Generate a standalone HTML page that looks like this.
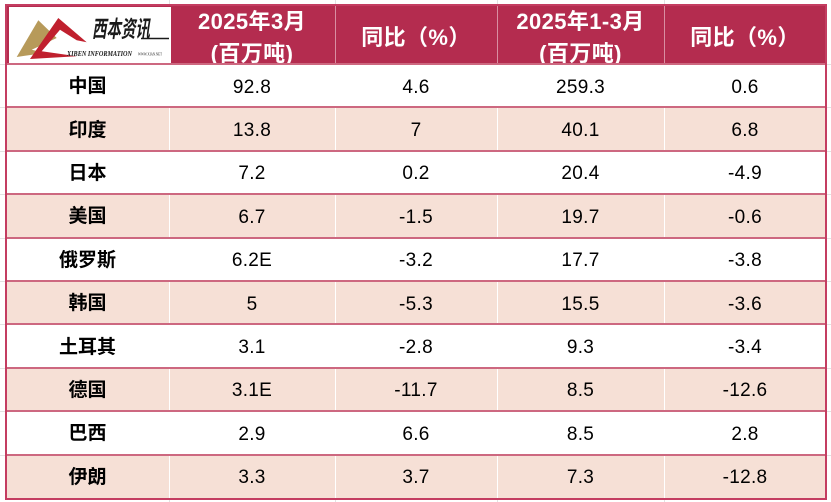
<!DOCTYPE html>
<html><head><meta charset="utf-8">
<style>
html,body{margin:0;padding:0;background:#fff;}
body{width:831px;height:502px;position:relative;overflow:hidden;font-family:"Liberation Sans","Noto Sans CJK SC",sans-serif;}
.g{position:absolute;background:#e2e2e2;}
#t{position:absolute;left:6px;top:5px;width:820px;height:493px;display:grid;grid-template-columns:163px 166px 162px 167px 162px;grid-template-rows:59px repeat(10,43.4px);}
#t>div{display:flex;align-items:center;justify-content:center;text-align:center;color:#000;font-size:19px;letter-spacing:0.3px;padding-top:4px;box-sizing:border-box;}
#t>div.h{background:#b42c4f;color:#fff;font-weight:bold;font-size:22px;line-height:32px;letter-spacing:0.4px;padding-top:0;}
#t>div.h span{display:block;margin-top:6px;}
#t>div.n{font-weight:bold;font-size:19px;letter-spacing:0;padding-top:0;padding-bottom:2px;}
#t>div.p{background:#f6e0d6;}
.hl{position:absolute;left:6px;width:820px;height:2px;background:#cd6880;}
.vl{position:absolute;top:64px;height:434px;width:1px;background:#fff;}
.hv{position:absolute;top:5px;height:59px;width:1px;background:#d98ea2;}
#ob{position:absolute;left:5px;top:4px;width:818px;height:492px;border:2px solid #c43d61;}
</style></head><body>
<div class="g" style="left:169px;top:0;width:1px;height:502px"></div>
<div class="g" style="left:335px;top:0;width:1px;height:502px"></div>
<div class="g" style="left:497px;top:0;width:1px;height:502px"></div>
<div class="g" style="left:664px;top:0;width:1px;height:502px"></div>
<div class="g" style="left:0;top:64px;width:831px;height:1px"></div>
<div class="g" style="left:0;top:107px;width:831px;height:1px"></div>
<div class="g" style="left:0;top:151px;width:831px;height:1px"></div>
<div class="g" style="left:0;top:194px;width:831px;height:1px"></div>
<div class="g" style="left:0;top:238px;width:831px;height:1px"></div>
<div class="g" style="left:0;top:281px;width:831px;height:1px"></div>
<div class="g" style="left:0;top:324px;width:831px;height:1px"></div>
<div class="g" style="left:0;top:368px;width:831px;height:1px"></div>
<div class="g" style="left:0;top:411px;width:831px;height:1px"></div>
<div class="g" style="left:0;top:455px;width:831px;height:1px"></div>

<div id="t">
<div class="h"></div>
<div class="h"><span>2025年3月<br>(百万吨)</span></div>
<div class="h"><span>同比（%）</span></div>
<div class="h"><span>2025年1-3月<br>(百万吨)</span></div>
<div class="h"><span>同比（%）</span></div>

<div class="n">中国</div><div>92.8</div><div>4.6</div><div>259.3</div><div>0.6</div>
<div class="n p">印度</div><div class="p">13.8</div><div class="p">7</div><div class="p">40.1</div><div class="p">6.8</div>
<div class="n">日本</div><div>7.2</div><div>0.2</div><div>20.4</div><div>-4.9</div>
<div class="n p">美国</div><div class="p">6.7</div><div class="p">-1.5</div><div class="p">19.7</div><div class="p">-0.6</div>
<div class="n">俄罗斯</div><div>6.2E</div><div>-3.2</div><div>17.7</div><div>-3.8</div>
<div class="n p">韩国</div><div class="p">5</div><div class="p">-5.3</div><div class="p">15.5</div><div class="p">-3.6</div>
<div class="n">土耳其</div><div>3.1</div><div>-2.8</div><div>9.3</div><div>-3.4</div>
<div class="n p">德国</div><div class="p">3.1E</div><div class="p">-11.7</div><div class="p">8.5</div><div class="p">-12.6</div>
<div class="n">巴西</div><div>2.9</div><div>6.6</div><div>8.5</div><div>2.8</div>
<div class="n p">伊朗</div><div class="p">3.3</div><div class="p">3.7</div><div class="p">7.3</div><div class="p">-12.8</div>
</div>

<div class="vl" style="left:169px"></div>
<div class="vl" style="left:335px"></div>
<div class="vl" style="left:497px"></div>
<div class="vl" style="left:664px"></div>
<div class="hv" style="left:335px"></div>
<div class="hv" style="left:497px"></div>
<div class="hv" style="left:664px"></div>
<div class="hl" style="top:63px"></div>
<div class="hl" style="top:106.4px"></div>
<div class="hl" style="top:149.8px"></div>
<div class="hl" style="top:193.2px"></div>
<div class="hl" style="top:236.6px"></div>
<div class="hl" style="top:280px"></div>
<div class="hl" style="top:323.4px"></div>
<div class="hl" style="top:366.8px"></div>
<div class="hl" style="top:410.2px"></div>
<div class="hl" style="top:453.6px"></div>
<div id="ob"></div>

<svg style="position:absolute;left:0;top:0" width="831" height="502" viewBox="0 0 831 502">
<rect x="9" y="7" width="162" height="56" fill="#fff"/>
<polygon points="16.7,57 38.3,20.3 56.7,38 31.7,49.7 45,53 25,55.7" fill="#b79a5a"/>
<polygon points="58.3,18 86.7,42.3 76.7,40.3 60,29.7 41.7,51.3 76.7,56.3 30,59" fill="#c0202e"/>
<text x="92" y="37" font-size="23" font-weight="bold" font-style="italic" fill="#1a1a1a" textLength="58" lengthAdjust="spacingAndGlyphs" font-family="'Liberation Sans','Noto Sans CJK SC',sans-serif">西本资讯</text>
<line x1="141" y1="38.5" x2="169" y2="38.5" stroke="#1a1a1a" stroke-width="1.5"/>
<text x="67" y="56" font-size="7" font-weight="bold" font-style="italic" fill="#1a1a1a" textLength="65" lengthAdjust="spacingAndGlyphs" font-family="'Liberation Serif',serif">XIBEN INFORMATION</text>
<text x="138" y="55.5" font-size="4.5" fill="#1a1a1a" textLength="24" lengthAdjust="spacingAndGlyphs" font-family="'Liberation Serif',serif">WWW.XIAN.NET</text>
</svg>
</body></html>
